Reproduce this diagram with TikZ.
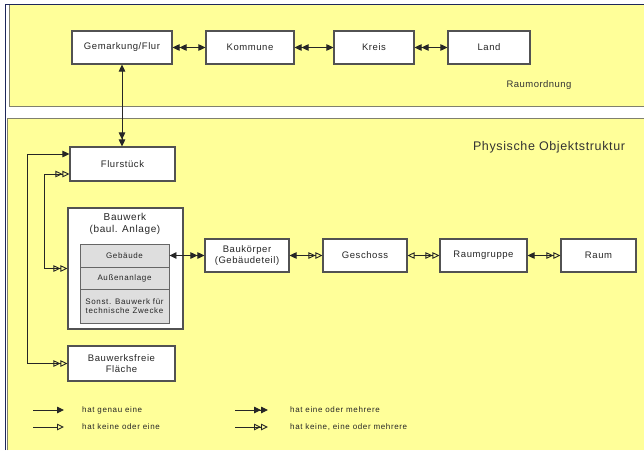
\documentclass[tikz,border=0pt]{standalone}
\usepackage{fontspec}
\setmainfont{Liberation Sans}
\usetikzlibrary{arrows.meta}
\definecolor{panel}{RGB}{255,255,153}
\definecolor{navy}{RGB}{30,40,90}
\definecolor{edgegrey}{RGB}{128,128,110}
\definecolor{innergrey}{RGB}{222,222,222}
\newfontfamily\boxfont[LetterSpace=6]{Liberation Sans}
\newfontfamily\smallfont[LetterSpace=8]{Liberation Sans}
\newfontfamily\titlefont[LetterSpace=5]{Liberation Sans}
\tikzset{
  onetip/.tip={Triangle[length=7pt,width=6.5pt]},
  manytip/.tip={Triangle[length=7pt,width=6.5pt]Triangle[length=7pt,width=6.5pt]},
  opttip/.tip={Triangle[open,length=7pt,width=6.5pt]},
  optmanytip/.tip={Triangle[open,length=7pt,width=6.5pt]Triangle[open,length=7pt,width=6.5pt]},
}
\begin{document}
\begin{tikzpicture}[x=1pt,y=-1pt,
  box/.style={draw=black!68, line width=1.1pt, fill=white, inner sep=1pt,
    font=\boxfont\fontsize{9.5}{11}\selectfont, text=black!85, align=center},
  ibox/.style={draw=black!60, line width=0.9pt, fill=innergrey, inner sep=1pt,
    font=\smallfont\fontsize{8}{9.5}\selectfont, text=black!85, align=center, minimum width=89pt},
  conn/.style={line width=0.9pt, draw=black!85},
  legtext/.style={font=\smallfont\fontsize{8}{9}\selectfont, text=black!85, anchor=west, inner sep=0pt},
  title/.style={text=black!80, inner sep=0pt},
]
\useasboundingbox (0,0) rectangle (644,450);
\fill[white] (0,0) rectangle (644,450);
% panels
\fill[panel] (9,5) rectangle (644,107);
\draw[edgegrey, line width=1.5pt] (9.5,5) -- (9.5,106.5) -- (644,106.5);
\fill[panel] (7,118) rectangle (644,450);
\draw[edgegrey, line width=1.5pt] (7.5,450) -- (7.5,118.5) -- (644,118.5);
\draw[navy, line width=1.5pt] (5.5,450) -- (5.5,4.5) -- (644,4.5);
% top row
\node[box, minimum width=100pt, minimum height=33pt] (gem) at (122,47.5) {Gemarkung/Flur};
\node[box, minimum width=88pt, minimum height=33pt] (kom) at (250,47.5) {Kommune};
\node[box, minimum width=80pt, minimum height=33pt] (kreis) at (374,47.5) {Kreis};
\node[box, minimum width=82pt, minimum height=33pt] (land) at (489,47.5) {Land};
\node[title, font=\titlefont\fontsize{9.5}{11}\selectfont] (ro) at (539,85) {Raumordnung};
\node[title, font=\titlefont\fontsize{12.5}{14}\selectfont] (pos) at (549,147) {Physische Objektstruktur};
% lower boxes
\node[box, minimum width=105pt, minimum height=34pt] (flur) at (122.5,164) {Flurstück};
\node[box, minimum width=115pt, minimum height=121pt] (bw) at (125.5,268.5) {};
\node[inner sep=0pt, font=\boxfont\fontsize{10}{12}\selectfont, text=black!85, align=center] (bwt) at (125,224) {Bauwerk\\(baul. Anlage)};
\node[ibox, minimum height=23pt] (geb) at (124.5,255.5) {Gebäude};
\node[ibox, minimum height=22pt] (aus) at (124.5,278) {Außenanlage};
\node[ibox, minimum height=34pt] (sonst) at (124.5,306) {Sonst. Bauwerk für\\technische Zwecke};
\node[box, minimum width=84pt, minimum height=33pt] (bk) at (247,255.5) {Baukörper\\(Gebäudeteil)};
\node[box, minimum width=84pt, minimum height=33pt] (gesch) at (365,255.5) {Geschoss};
\node[box, minimum width=87pt, minimum height=33pt] (rg) at (483.5,255.5) {Raumgruppe};
\node[box, minimum width=75pt, minimum height=33pt] (raum) at (598.5,255.5) {Raum};
\node[box, minimum width=107pt, minimum height=35pt] (bff) at (121.5,363.5) {Bauwerksfreie\\Fläche};
% connectors
\draw[conn, manytip-onetip] (gem) -- (kom);
\draw[conn, manytip-onetip] (kom) -- (kreis);
\draw[conn, manytip-onetip] (kreis) -- (land);
\draw[conn, onetip-manytip] (gem.south) -- (gem.south |- flur.north);
\coordinate (c1) at (27,154);
\coordinate (c2) at (44,174);
\draw[conn, onetip-optmanytip] (flur.west |- c1) -- (c1) |- (bff.west);
\draw[conn, optmanytip-optmanytip] (flur.west |- c2) -- (c2) |- (bw.west);
\draw[conn, onetip-manytip] (geb.east) -- (bk.west |- geb.east);
\draw[conn, onetip-optmanytip] (bk) -- (gesch);
\draw[conn, opttip-optmanytip] (gesch) -- (rg);
\draw[conn, onetip-optmanytip] (rg) -- (raum);
% legend
\coordinate (la1) at (33,410); \coordinate (lb1) at (64,410);
\coordinate (la2) at (33,427); \coordinate (lb2) at (64,427);
\coordinate (la3) at (235,410); \coordinate (lb3) at (268,410);
\coordinate (la4) at (235,427); \coordinate (lb4) at (268,427);
\draw[conn, -onetip] (la1) -- (lb1);
\draw[conn, -opttip] (la2) -- (lb2);
\draw[conn, -manytip] (la3) -- (lb3);
\draw[conn, -optmanytip] (la4) -- (lb4);
\node[legtext] (t1) at (82,410) {hat genau eine};
\node[legtext] (t2) at (82,427) {hat keine oder eine};
\node[legtext] (t3) at (290,410) {hat eine oder mehrere};
\node[legtext] (t4) at (290,427) {hat keine, eine oder mehrere};
\end{tikzpicture}
\end{document}
